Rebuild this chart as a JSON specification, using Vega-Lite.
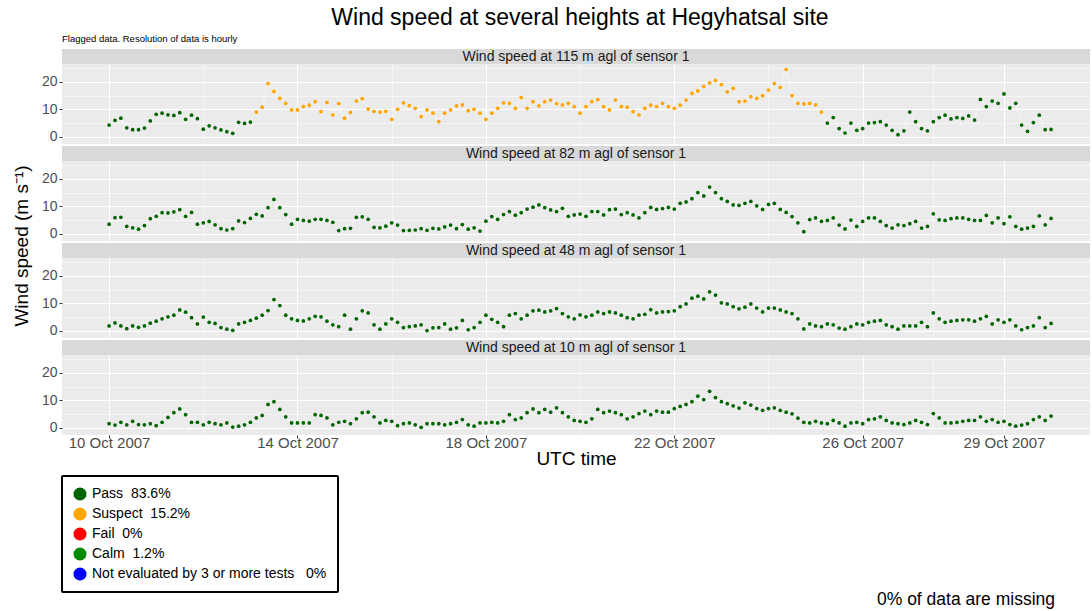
{
"$schema": "https://vega.github.io/schema/vega-lite/v6.json",
"usermeta": {"embedOptions": {"actions": false}},
"background": "white",
"padding": {"left": 12, "top": 6, "right": 0, "bottom": 0},
"title": {"text": "Wind speed at several heights at Hegyhatsal site", "fontSize": 23, "fontWeight": "normal", "color": "#000000", "anchor": "middle", "offset": 4, "dx": 29},
"spacing": 9,
"datasets": {
"ylab": [{"label":"Wind speed (m s⁻¹)"}],
"strips": [
{"s":"115","label":"Wind speed at 115 m agl of sensor 1"},
{"s":"82","label":"Wind speed at 82 m agl of sensor 1"},
{"s":"48","label":"Wind speed at 48 m agl of sensor 1"},
{"s":"10","label":"Wind speed at 10 m agl of sensor 1"}],
"notes": [{"note":"0% of data are missing"}],
"h115": [
{"t":"2007-10-10T00:00","v":4.3,"f":"Pass"},{"t":"2007-10-10T03:00","v":6.0,"f":"Pass"},{"t":"2007-10-10T06:00","v":6.8,"f":"Pass"},{"t":"2007-10-10T09:00","v":3.3,"f":"Pass"},{"t":"2007-10-10T12:00","v":2.6,"f":"Pass"},{"t":"2007-10-10T15:00","v":2.6,"f":"Pass"},{"t":"2007-10-10T18:00","v":3.2,"f":"Pass"},{"t":"2007-10-10T21:00","v":5.8,"f":"Pass"},
{"t":"2007-10-11T00:00","v":8.2,"f":"Pass"},{"t":"2007-10-11T03:00","v":8.6,"f":"Pass"},{"t":"2007-10-11T06:00","v":8.0,"f":"Pass"},{"t":"2007-10-11T09:00","v":7.8,"f":"Pass"},{"t":"2007-10-11T12:00","v":8.8,"f":"Pass"},{"t":"2007-10-11T15:00","v":6.4,"f":"Pass"},{"t":"2007-10-11T18:00","v":7.9,"f":"Pass"},{"t":"2007-10-11T21:00","v":6.6,"f":"Pass"},
{"t":"2007-10-12T00:00","v":2.8,"f":"Pass"},{"t":"2007-10-12T03:00","v":4.0,"f":"Pass"},{"t":"2007-10-12T06:00","v":3.3,"f":"Pass"},{"t":"2007-10-12T09:00","v":2.5,"f":"Pass"},{"t":"2007-10-12T12:00","v":1.9,"f":"Pass"},{"t":"2007-10-12T15:00","v":1.3,"f":"Pass"},{"t":"2007-10-12T18:00","v":5.3,"f":"Pass"},{"t":"2007-10-12T21:00","v":4.9,"f":"Pass"},
{"t":"2007-10-13T00:00","v":5.4,"f":"Pass"},{"t":"2007-10-13T03:00","v":9.0,"f":"Suspect"},{"t":"2007-10-13T06:00","v":10.8,"f":"Suspect"},{"t":"2007-10-13T09:00","v":19.4,"f":"Suspect"},{"t":"2007-10-13T12:00","v":16.5,"f":"Suspect"},{"t":"2007-10-13T15:00","v":14.0,"f":"Suspect"},{"t":"2007-10-13T18:00","v":12.2,"f":"Suspect"},{"t":"2007-10-13T21:00","v":9.8,"f":"Suspect"},
{"t":"2007-10-14T00:00","v":9.8,"f":"Suspect"},{"t":"2007-10-14T03:00","v":11.0,"f":"Suspect"},{"t":"2007-10-14T06:00","v":11.5,"f":"Suspect"},{"t":"2007-10-14T09:00","v":12.8,"f":"Suspect"},{"t":"2007-10-14T12:00","v":9.2,"f":"Suspect"},{"t":"2007-10-14T15:00","v":12.5,"f":"Suspect"},{"t":"2007-10-14T18:00","v":8.0,"f":"Suspect"},{"t":"2007-10-14T21:00","v":12.1,"f":"Suspect"},
{"t":"2007-10-15T00:00","v":6.8,"f":"Suspect"},{"t":"2007-10-15T03:00","v":8.9,"f":"Suspect"},{"t":"2007-10-15T06:00","v":13.0,"f":"Suspect"},{"t":"2007-10-15T09:00","v":13.9,"f":"Suspect"},{"t":"2007-10-15T12:00","v":10.1,"f":"Suspect"},{"t":"2007-10-15T15:00","v":9.3,"f":"Suspect"},{"t":"2007-10-15T18:00","v":9.0,"f":"Suspect"},{"t":"2007-10-15T21:00","v":9.3,"f":"Suspect"},
{"t":"2007-10-16T00:00","v":6.4,"f":"Suspect"},{"t":"2007-10-16T03:00","v":10.0,"f":"Suspect"},{"t":"2007-10-16T06:00","v":12.4,"f":"Suspect"},{"t":"2007-10-16T09:00","v":11.4,"f":"Suspect"},{"t":"2007-10-16T12:00","v":10.4,"f":"Suspect"},{"t":"2007-10-16T15:00","v":7.4,"f":"Suspect"},{"t":"2007-10-16T18:00","v":9.8,"f":"Suspect"},{"t":"2007-10-16T21:00","v":8.6,"f":"Suspect"},
{"t":"2007-10-17T00:00","v":5.5,"f":"Suspect"},{"t":"2007-10-17T03:00","v":8.6,"f":"Suspect"},{"t":"2007-10-17T06:00","v":9.8,"f":"Suspect"},{"t":"2007-10-17T09:00","v":11.3,"f":"Suspect"},{"t":"2007-10-17T12:00","v":11.6,"f":"Suspect"},{"t":"2007-10-17T15:00","v":9.5,"f":"Suspect"},{"t":"2007-10-17T18:00","v":10.0,"f":"Suspect"},{"t":"2007-10-17T21:00","v":8.6,"f":"Suspect"},
{"t":"2007-10-18T00:00","v":6.4,"f":"Suspect"},{"t":"2007-10-18T03:00","v":8.6,"f":"Suspect"},{"t":"2007-10-18T06:00","v":10.4,"f":"Suspect"},{"t":"2007-10-18T09:00","v":12.4,"f":"Suspect"},{"t":"2007-10-18T12:00","v":12.2,"f":"Suspect"},{"t":"2007-10-18T15:00","v":10.4,"f":"Suspect"},{"t":"2007-10-18T18:00","v":14.3,"f":"Suspect"},{"t":"2007-10-18T21:00","v":10.4,"f":"Suspect"},
{"t":"2007-10-19T00:00","v":12.8,"f":"Suspect"},{"t":"2007-10-19T03:00","v":11.3,"f":"Suspect"},{"t":"2007-10-19T06:00","v":12.8,"f":"Suspect"},{"t":"2007-10-19T09:00","v":13.4,"f":"Suspect"},{"t":"2007-10-19T12:00","v":12.1,"f":"Suspect"},{"t":"2007-10-19T15:00","v":11.6,"f":"Suspect"},{"t":"2007-10-19T18:00","v":12.2,"f":"Suspect"},{"t":"2007-10-19T21:00","v":11.0,"f":"Suspect"},
{"t":"2007-10-20T00:00","v":8.6,"f":"Suspect"},{"t":"2007-10-20T03:00","v":11.0,"f":"Suspect"},{"t":"2007-10-20T06:00","v":12.8,"f":"Suspect"},{"t":"2007-10-20T09:00","v":13.5,"f":"Suspect"},{"t":"2007-10-20T12:00","v":11.0,"f":"Suspect"},{"t":"2007-10-20T15:00","v":9.8,"f":"Suspect"},{"t":"2007-10-20T18:00","v":13.4,"f":"Suspect"},{"t":"2007-10-20T21:00","v":11.0,"f":"Suspect"},
{"t":"2007-10-21T00:00","v":10.8,"f":"Suspect"},{"t":"2007-10-21T03:00","v":9.2,"f":"Suspect"},{"t":"2007-10-21T06:00","v":8.0,"f":"Suspect"},{"t":"2007-10-21T09:00","v":10.4,"f":"Suspect"},{"t":"2007-10-21T12:00","v":11.5,"f":"Suspect"},{"t":"2007-10-21T15:00","v":11.0,"f":"Suspect"},{"t":"2007-10-21T18:00","v":12.2,"f":"Suspect"},{"t":"2007-10-21T21:00","v":11.0,"f":"Suspect"},
{"t":"2007-10-22T00:00","v":10.4,"f":"Suspect"},{"t":"2007-10-22T03:00","v":11.5,"f":"Suspect"},{"t":"2007-10-22T06:00","v":13.4,"f":"Suspect"},{"t":"2007-10-22T09:00","v":15.8,"f":"Suspect"},{"t":"2007-10-22T12:00","v":16.7,"f":"Suspect"},{"t":"2007-10-22T15:00","v":18.4,"f":"Suspect"},{"t":"2007-10-22T18:00","v":19.6,"f":"Suspect"},{"t":"2007-10-22T21:00","v":20.5,"f":"Suspect"},
{"t":"2007-10-23T00:00","v":19.0,"f":"Suspect"},{"t":"2007-10-23T03:00","v":16.4,"f":"Suspect"},{"t":"2007-10-23T06:00","v":17.6,"f":"Suspect"},{"t":"2007-10-23T09:00","v":12.8,"f":"Suspect"},{"t":"2007-10-23T12:00","v":13.0,"f":"Suspect"},{"t":"2007-10-23T15:00","v":14.6,"f":"Suspect"},{"t":"2007-10-23T18:00","v":14.0,"f":"Suspect"},{"t":"2007-10-23T21:00","v":15.0,"f":"Suspect"},
{"t":"2007-10-24T00:00","v":17.0,"f":"Suspect"},{"t":"2007-10-24T03:00","v":19.4,"f":"Suspect"},{"t":"2007-10-24T06:00","v":18.0,"f":"Suspect"},{"t":"2007-10-24T09:00","v":24.5,"f":"Suspect"},{"t":"2007-10-24T12:00","v":15.0,"f":"Suspect"},{"t":"2007-10-24T15:00","v":12.2,"f":"Suspect"},{"t":"2007-10-24T18:00","v":12.0,"f":"Suspect"},{"t":"2007-10-24T21:00","v":12.2,"f":"Suspect"},
{"t":"2007-10-25T00:00","v":11.6,"f":"Suspect"},{"t":"2007-10-25T03:00","v":9.0,"f":"Suspect"},{"t":"2007-10-25T06:00","v":5.0,"f":"Pass"},{"t":"2007-10-25T09:00","v":7.0,"f":"Pass"},{"t":"2007-10-25T12:00","v":3.0,"f":"Pass"},{"t":"2007-10-25T15:00","v":1.4,"f":"Pass"},{"t":"2007-10-25T18:00","v":5.0,"f":"Pass"},{"t":"2007-10-25T21:00","v":2.4,"f":"Pass"},
{"t":"2007-10-26T00:00","v":3.0,"f":"Pass"},{"t":"2007-10-26T03:00","v":5.0,"f":"Pass"},{"t":"2007-10-26T06:00","v":5.2,"f":"Pass"},{"t":"2007-10-26T09:00","v":5.5,"f":"Pass"},{"t":"2007-10-26T12:00","v":4.3,"f":"Pass"},{"t":"2007-10-26T15:00","v":2.4,"f":"Pass"},{"t":"2007-10-26T18:00","v":0.8,"f":"Pass"},{"t":"2007-10-26T21:00","v":2.2,"f":"Pass"},
{"t":"2007-10-27T00:00","v":9.0,"f":"Pass"},{"t":"2007-10-27T03:00","v":5.5,"f":"Pass"},{"t":"2007-10-27T06:00","v":3.0,"f":"Pass"},{"t":"2007-10-27T09:00","v":2.2,"f":"Pass"},{"t":"2007-10-27T12:00","v":5.5,"f":"Pass"},{"t":"2007-10-27T15:00","v":7.0,"f":"Pass"},{"t":"2007-10-27T18:00","v":7.9,"f":"Pass"},{"t":"2007-10-27T21:00","v":6.5,"f":"Pass"},
{"t":"2007-10-28T00:00","v":7.0,"f":"Pass"},{"t":"2007-10-28T03:00","v":6.7,"f":"Pass"},{"t":"2007-10-28T06:00","v":7.6,"f":"Pass"},{"t":"2007-10-28T09:00","v":6.1,"f":"Pass"},{"t":"2007-10-28T12:00","v":13.6,"f":"Pass"},{"t":"2007-10-28T15:00","v":11.0,"f":"Pass"},{"t":"2007-10-28T18:00","v":13.0,"f":"Pass"},{"t":"2007-10-28T21:00","v":12.2,"f":"Pass"},
{"t":"2007-10-29T00:00","v":15.6,"f":"Pass"},{"t":"2007-10-29T03:00","v":10.5,"f":"Pass"},{"t":"2007-10-29T06:00","v":12.2,"f":"Pass"},{"t":"2007-10-29T09:00","v":4.3,"f":"Pass"},{"t":"2007-10-29T12:00","v":2.0,"f":"Pass"},{"t":"2007-10-29T15:00","v":5.2,"f":"Pass"},{"t":"2007-10-29T18:00","v":7.9,"f":"Pass"},{"t":"2007-10-29T21:00","v":2.6,"f":"Pass"},
{"t":"2007-10-30T00:00","v":2.7,"f":"Pass"}],
"h82": [
{"t":"2007-10-10T00:00","v":3.5},{"t":"2007-10-10T03:00","v":5.9},{"t":"2007-10-10T06:00","v":6.0},{"t":"2007-10-10T09:00","v":2.7},{"t":"2007-10-10T12:00","v":2.2},{"t":"2007-10-10T15:00","v":1.7},{"t":"2007-10-10T18:00","v":3.0},{"t":"2007-10-10T21:00","v":5.5},
{"t":"2007-10-11T00:00","v":6.4},{"t":"2007-10-11T03:00","v":7.7},{"t":"2007-10-11T06:00","v":7.6},{"t":"2007-10-11T09:00","v":8.0},{"t":"2007-10-11T12:00","v":8.8},{"t":"2007-10-11T15:00","v":6.4},{"t":"2007-10-11T18:00","v":7.8},{"t":"2007-10-11T21:00","v":3.5},
{"t":"2007-10-12T00:00","v":4.0},{"t":"2007-10-12T03:00","v":4.5},{"t":"2007-10-12T06:00","v":3.3},{"t":"2007-10-12T09:00","v":1.9},{"t":"2007-10-12T12:00","v":1.4},{"t":"2007-10-12T15:00","v":1.9},{"t":"2007-10-12T18:00","v":4.7},{"t":"2007-10-12T21:00","v":4.1},
{"t":"2007-10-13T00:00","v":5.6},{"t":"2007-10-13T03:00","v":7.1},{"t":"2007-10-13T06:00","v":6.5},{"t":"2007-10-13T09:00","v":9.5},{"t":"2007-10-13T12:00","v":12.5},{"t":"2007-10-13T15:00","v":9.5},{"t":"2007-10-13T18:00","v":7.0},{"t":"2007-10-13T21:00","v":3.5},
{"t":"2007-10-14T00:00","v":5.3},{"t":"2007-10-14T03:00","v":4.9},{"t":"2007-10-14T06:00","v":4.6},{"t":"2007-10-14T09:00","v":5.3},{"t":"2007-10-14T12:00","v":5.3},{"t":"2007-10-14T15:00","v":4.9},{"t":"2007-10-14T18:00","v":4.2},{"t":"2007-10-14T21:00","v":1.2},
{"t":"2007-10-15T00:00","v":1.9},{"t":"2007-10-15T03:00","v":2.0},{"t":"2007-10-15T06:00","v":6.0},{"t":"2007-10-15T09:00","v":6.2},{"t":"2007-10-15T12:00","v":5.3},{"t":"2007-10-15T15:00","v":2.4},{"t":"2007-10-15T18:00","v":2.2},{"t":"2007-10-15T21:00","v":2.8},
{"t":"2007-10-16T00:00","v":4.0},{"t":"2007-10-16T03:00","v":3.2},{"t":"2007-10-16T06:00","v":1.2},{"t":"2007-10-16T09:00","v":1.3},{"t":"2007-10-16T12:00","v":1.4},{"t":"2007-10-16T15:00","v":1.9},{"t":"2007-10-16T18:00","v":1.3},{"t":"2007-10-16T21:00","v":2.0},
{"t":"2007-10-17T00:00","v":1.8},{"t":"2007-10-17T03:00","v":2.5},{"t":"2007-10-17T06:00","v":3.2},{"t":"2007-10-17T09:00","v":1.9},{"t":"2007-10-17T12:00","v":3.4},{"t":"2007-10-17T15:00","v":1.7},{"t":"2007-10-17T18:00","v":2.2},{"t":"2007-10-17T21:00","v":1.0},
{"t":"2007-10-18T00:00","v":4.6},{"t":"2007-10-18T03:00","v":6.3},{"t":"2007-10-18T06:00","v":5.3},{"t":"2007-10-18T09:00","v":7.0},{"t":"2007-10-18T12:00","v":8.1},{"t":"2007-10-18T15:00","v":6.8},{"t":"2007-10-18T18:00","v":7.7},{"t":"2007-10-18T21:00","v":9.0},
{"t":"2007-10-19T00:00","v":9.7},{"t":"2007-10-19T03:00","v":10.5},{"t":"2007-10-19T06:00","v":9.5},{"t":"2007-10-19T09:00","v":8.7},{"t":"2007-10-19T12:00","v":8.1},{"t":"2007-10-19T15:00","v":9.3},{"t":"2007-10-19T18:00","v":6.4},{"t":"2007-10-19T21:00","v":6.9},
{"t":"2007-10-20T00:00","v":7.2},{"t":"2007-10-20T03:00","v":6.4},{"t":"2007-10-20T06:00","v":8.1},{"t":"2007-10-20T09:00","v":8.1},{"t":"2007-10-20T12:00","v":6.9},{"t":"2007-10-20T15:00","v":8.8},{"t":"2007-10-20T18:00","v":9.0},{"t":"2007-10-20T21:00","v":7.0},
{"t":"2007-10-21T00:00","v":7.7},{"t":"2007-10-21T03:00","v":6.9},{"t":"2007-10-21T06:00","v":5.8},{"t":"2007-10-21T09:00","v":7.7},{"t":"2007-10-21T12:00","v":9.6},{"t":"2007-10-21T15:00","v":8.9},{"t":"2007-10-21T18:00","v":9.2},{"t":"2007-10-21T21:00","v":9.6},
{"t":"2007-10-22T00:00","v":9.0},{"t":"2007-10-22T03:00","v":11.1},{"t":"2007-10-22T06:00","v":11.6},{"t":"2007-10-22T09:00","v":12.8},{"t":"2007-10-22T12:00","v":15.0},{"t":"2007-10-22T15:00","v":13.8},{"t":"2007-10-22T18:00","v":17.0},{"t":"2007-10-22T21:00","v":15.0},
{"t":"2007-10-23T00:00","v":12.8},{"t":"2007-10-23T03:00","v":11.8},{"t":"2007-10-23T06:00","v":10.5},{"t":"2007-10-23T09:00","v":10.4},{"t":"2007-10-23T12:00","v":11.1},{"t":"2007-10-23T15:00","v":11.8},{"t":"2007-10-23T18:00","v":10.2},{"t":"2007-10-23T21:00","v":8.9},
{"t":"2007-10-24T00:00","v":10.7},{"t":"2007-10-24T03:00","v":11.1},{"t":"2007-10-24T06:00","v":8.9},{"t":"2007-10-24T09:00","v":7.8},{"t":"2007-10-24T12:00","v":6.3},{"t":"2007-10-24T15:00","v":4.0},{"t":"2007-10-24T18:00","v":0.8},{"t":"2007-10-24T21:00","v":5.2},
{"t":"2007-10-25T00:00","v":5.8},{"t":"2007-10-25T03:00","v":4.5},{"t":"2007-10-25T06:00","v":4.9},{"t":"2007-10-25T09:00","v":5.8},{"t":"2007-10-25T12:00","v":3.2},{"t":"2007-10-25T15:00","v":1.8},{"t":"2007-10-25T18:00","v":5.0},{"t":"2007-10-25T21:00","v":2.7},
{"t":"2007-10-26T00:00","v":4.5},{"t":"2007-10-26T03:00","v":5.8},{"t":"2007-10-26T06:00","v":5.8},{"t":"2007-10-26T09:00","v":4.5},{"t":"2007-10-26T12:00","v":3.0},{"t":"2007-10-26T15:00","v":2.1},{"t":"2007-10-26T18:00","v":3.3},{"t":"2007-10-26T21:00","v":3.0},
{"t":"2007-10-27T00:00","v":3.7},{"t":"2007-10-27T03:00","v":4.5},{"t":"2007-10-27T06:00","v":2.1},{"t":"2007-10-27T09:00","v":2.7},{"t":"2007-10-27T12:00","v":7.3},{"t":"2007-10-27T15:00","v":5.1},{"t":"2007-10-27T18:00","v":4.9},{"t":"2007-10-27T21:00","v":5.5},
{"t":"2007-10-28T00:00","v":5.8},{"t":"2007-10-28T03:00","v":5.8},{"t":"2007-10-28T06:00","v":5.3},{"t":"2007-10-28T09:00","v":4.9},{"t":"2007-10-28T12:00","v":4.9},{"t":"2007-10-28T15:00","v":6.7},{"t":"2007-10-28T18:00","v":4.0},{"t":"2007-10-28T21:00","v":5.8},
{"t":"2007-10-29T00:00","v":3.7},{"t":"2007-10-29T03:00","v":6.2},{"t":"2007-10-29T06:00","v":2.7},{"t":"2007-10-29T09:00","v":1.7},{"t":"2007-10-29T12:00","v":2.1},{"t":"2007-10-29T15:00","v":2.7},{"t":"2007-10-29T18:00","v":6.5},{"t":"2007-10-29T21:00","v":3.3},
{"t":"2007-10-30T00:00","v":5.6}],
"h48": [
{"t":"2007-10-10T00:00","v":1.8},{"t":"2007-10-10T03:00","v":2.9},{"t":"2007-10-10T06:00","v":1.8},{"t":"2007-10-10T09:00","v":0.8},{"t":"2007-10-10T12:00","v":1.8},{"t":"2007-10-10T15:00","v":1.3},{"t":"2007-10-10T18:00","v":1.8},{"t":"2007-10-10T21:00","v":2.8},
{"t":"2007-10-11T00:00","v":3.5},{"t":"2007-10-11T03:00","v":4.4},{"t":"2007-10-11T06:00","v":5.1},{"t":"2007-10-11T09:00","v":5.7},{"t":"2007-10-11T12:00","v":7.6},{"t":"2007-10-11T15:00","v":6.8},{"t":"2007-10-11T18:00","v":4.8},{"t":"2007-10-11T21:00","v":2.5},
{"t":"2007-10-12T00:00","v":5.0},{"t":"2007-10-12T03:00","v":3.1},{"t":"2007-10-12T06:00","v":2.7},{"t":"2007-10-12T09:00","v":1.2},{"t":"2007-10-12T12:00","v":0.6},{"t":"2007-10-12T15:00","v":0.2},{"t":"2007-10-12T18:00","v":2.5},{"t":"2007-10-12T21:00","v":3.1},
{"t":"2007-10-13T00:00","v":3.8},{"t":"2007-10-13T03:00","v":4.6},{"t":"2007-10-13T06:00","v":5.7},{"t":"2007-10-13T09:00","v":7.4},{"t":"2007-10-13T12:00","v":11.4},{"t":"2007-10-13T15:00","v":9.2},{"t":"2007-10-13T18:00","v":5.7},{"t":"2007-10-13T21:00","v":4.4},
{"t":"2007-10-14T00:00","v":3.8},{"t":"2007-10-14T03:00","v":3.6},{"t":"2007-10-14T06:00","v":4.4},{"t":"2007-10-14T09:00","v":5.3},{"t":"2007-10-14T12:00","v":5.1},{"t":"2007-10-14T15:00","v":3.5},{"t":"2007-10-14T18:00","v":2.2},{"t":"2007-10-14T21:00","v":1.5},
{"t":"2007-10-15T00:00","v":5.7},{"t":"2007-10-15T03:00","v":0.6},{"t":"2007-10-15T06:00","v":4.4},{"t":"2007-10-15T09:00","v":7.3},{"t":"2007-10-15T12:00","v":6.5},{"t":"2007-10-15T15:00","v":2.2},{"t":"2007-10-15T18:00","v":0.6},{"t":"2007-10-15T21:00","v":2.5},
{"t":"2007-10-16T00:00","v":4.4},{"t":"2007-10-16T03:00","v":3.1},{"t":"2007-10-16T06:00","v":1.2},{"t":"2007-10-16T09:00","v":1.5},{"t":"2007-10-16T12:00","v":1.8},{"t":"2007-10-16T15:00","v":2.2},{"t":"2007-10-16T18:00","v":0.1},{"t":"2007-10-16T21:00","v":1.1},
{"t":"2007-10-17T00:00","v":1.2},{"t":"2007-10-17T03:00","v":2.5},{"t":"2007-10-17T06:00","v":0.6},{"t":"2007-10-17T09:00","v":1.1},{"t":"2007-10-17T12:00","v":3.8},{"t":"2007-10-17T15:00","v":0.4},{"t":"2007-10-17T18:00","v":1.2},{"t":"2007-10-17T21:00","v":3.1},
{"t":"2007-10-18T00:00","v":5.7},{"t":"2007-10-18T03:00","v":4.2},{"t":"2007-10-18T06:00","v":3.1},{"t":"2007-10-18T09:00","v":1.5},{"t":"2007-10-18T12:00","v":5.7},{"t":"2007-10-18T15:00","v":6.3},{"t":"2007-10-18T18:00","v":4.4},{"t":"2007-10-18T21:00","v":5.7},
{"t":"2007-10-19T00:00","v":7.3},{"t":"2007-10-19T03:00","v":7.5},{"t":"2007-10-19T06:00","v":6.9},{"t":"2007-10-19T09:00","v":7.3},{"t":"2007-10-19T12:00","v":8.1},{"t":"2007-10-19T15:00","v":6.3},{"t":"2007-10-19T18:00","v":5.1},{"t":"2007-10-19T21:00","v":4.4},
{"t":"2007-10-20T00:00","v":5.8},{"t":"2007-10-20T03:00","v":5.1},{"t":"2007-10-20T06:00","v":5.7},{"t":"2007-10-20T09:00","v":6.9},{"t":"2007-10-20T12:00","v":6.3},{"t":"2007-10-20T15:00","v":6.9},{"t":"2007-10-20T18:00","v":6.5},{"t":"2007-10-20T21:00","v":5.7},
{"t":"2007-10-21T00:00","v":4.8},{"t":"2007-10-21T03:00","v":4.4},{"t":"2007-10-21T06:00","v":5.7},{"t":"2007-10-21T09:00","v":6.0},{"t":"2007-10-21T12:00","v":7.7},{"t":"2007-10-21T15:00","v":6.5},{"t":"2007-10-21T18:00","v":6.9},{"t":"2007-10-21T21:00","v":7.0},
{"t":"2007-10-22T00:00","v":7.3},{"t":"2007-10-22T03:00","v":8.8},{"t":"2007-10-22T06:00","v":9.8},{"t":"2007-10-22T09:00","v":11.9},{"t":"2007-10-22T12:00","v":12.6},{"t":"2007-10-22T15:00","v":11.6},{"t":"2007-10-22T18:00","v":14.2},{"t":"2007-10-22T21:00","v":13.0},
{"t":"2007-10-23T00:00","v":10.2},{"t":"2007-10-23T03:00","v":9.8},{"t":"2007-10-23T06:00","v":8.8},{"t":"2007-10-23T09:00","v":8.0},{"t":"2007-10-23T12:00","v":8.6},{"t":"2007-10-23T15:00","v":9.8},{"t":"2007-10-23T18:00","v":8.3},{"t":"2007-10-23T21:00","v":6.9},
{"t":"2007-10-24T00:00","v":8.3},{"t":"2007-10-24T03:00","v":8.3},{"t":"2007-10-24T06:00","v":7.6},{"t":"2007-10-24T09:00","v":6.9},{"t":"2007-10-24T12:00","v":6.3},{"t":"2007-10-24T15:00","v":4.4},{"t":"2007-10-24T18:00","v":0.7},{"t":"2007-10-24T21:00","v":2.5},
{"t":"2007-10-25T00:00","v":1.8},{"t":"2007-10-25T03:00","v":1.5},{"t":"2007-10-25T06:00","v":2.5},{"t":"2007-10-25T09:00","v":2.2},{"t":"2007-10-25T12:00","v":1.0},{"t":"2007-10-25T15:00","v":0.6},{"t":"2007-10-25T18:00","v":1.5},{"t":"2007-10-25T21:00","v":2.5},
{"t":"2007-10-26T00:00","v":2.2},{"t":"2007-10-26T03:00","v":3.1},{"t":"2007-10-26T06:00","v":3.5},{"t":"2007-10-26T09:00","v":3.8},{"t":"2007-10-26T12:00","v":2.2},{"t":"2007-10-26T15:00","v":1.5},{"t":"2007-10-26T18:00","v":0.6},{"t":"2007-10-26T21:00","v":1.8},
{"t":"2007-10-27T00:00","v":1.8},{"t":"2007-10-27T03:00","v":1.8},{"t":"2007-10-27T06:00","v":3.1},{"t":"2007-10-27T09:00","v":1.5},{"t":"2007-10-27T12:00","v":6.5},{"t":"2007-10-27T15:00","v":4.4},{"t":"2007-10-27T18:00","v":3.1},{"t":"2007-10-27T21:00","v":3.5},
{"t":"2007-10-28T00:00","v":3.8},{"t":"2007-10-28T03:00","v":4.0},{"t":"2007-10-28T06:00","v":4.0},{"t":"2007-10-28T09:00","v":3.5},{"t":"2007-10-28T12:00","v":4.4},{"t":"2007-10-28T15:00","v":5.3},{"t":"2007-10-28T18:00","v":2.5},{"t":"2007-10-28T21:00","v":4.0},
{"t":"2007-10-29T00:00","v":3.1},{"t":"2007-10-29T03:00","v":4.0},{"t":"2007-10-29T06:00","v":1.8},{"t":"2007-10-29T09:00","v":0.4},{"t":"2007-10-29T12:00","v":1.2},{"t":"2007-10-29T15:00","v":1.8},{"t":"2007-10-29T18:00","v":4.8},{"t":"2007-10-29T21:00","v":1.2},
{"t":"2007-10-30T00:00","v":2.7}],
"h10": [
{"t":"2007-10-10T00:00","v":1.5},{"t":"2007-10-10T03:00","v":1.0},{"t":"2007-10-10T06:00","v":2.0},{"t":"2007-10-10T09:00","v":1.1},{"t":"2007-10-10T12:00","v":2.4},{"t":"2007-10-10T15:00","v":1.2},{"t":"2007-10-10T18:00","v":1.1},{"t":"2007-10-10T21:00","v":1.5},
{"t":"2007-10-11T00:00","v":0.8},{"t":"2007-10-11T03:00","v":2.0},{"t":"2007-10-11T06:00","v":3.8},{"t":"2007-10-11T09:00","v":5.5},{"t":"2007-10-11T12:00","v":6.9},{"t":"2007-10-11T15:00","v":4.8},{"t":"2007-10-11T18:00","v":2.0},{"t":"2007-10-11T21:00","v":2.0},
{"t":"2007-10-12T00:00","v":1.1},{"t":"2007-10-12T03:00","v":2.0},{"t":"2007-10-12T06:00","v":1.5},{"t":"2007-10-12T09:00","v":1.1},{"t":"2007-10-12T12:00","v":1.8},{"t":"2007-10-12T15:00","v":0.3},{"t":"2007-10-12T18:00","v":0.6},{"t":"2007-10-12T21:00","v":1.1},
{"t":"2007-10-13T00:00","v":2.0},{"t":"2007-10-13T03:00","v":3.6},{"t":"2007-10-13T06:00","v":4.5},{"t":"2007-10-13T09:00","v":8.5},{"t":"2007-10-13T12:00","v":9.5},{"t":"2007-10-13T15:00","v":6.7},{"t":"2007-10-13T18:00","v":4.0},{"t":"2007-10-13T21:00","v":1.8},
{"t":"2007-10-14T00:00","v":1.8},{"t":"2007-10-14T03:00","v":1.8},{"t":"2007-10-14T06:00","v":1.8},{"t":"2007-10-14T09:00","v":4.8},{"t":"2007-10-14T12:00","v":4.5},{"t":"2007-10-14T15:00","v":3.6},{"t":"2007-10-14T18:00","v":1.1},{"t":"2007-10-14T21:00","v":2.0},
{"t":"2007-10-15T00:00","v":2.4},{"t":"2007-10-15T03:00","v":1.5},{"t":"2007-10-15T06:00","v":3.3},{"t":"2007-10-15T09:00","v":5.5},{"t":"2007-10-15T12:00","v":5.7},{"t":"2007-10-15T15:00","v":4.0},{"t":"2007-10-15T18:00","v":1.8},{"t":"2007-10-15T21:00","v":2.7},
{"t":"2007-10-16T00:00","v":2.4},{"t":"2007-10-16T03:00","v":0.8},{"t":"2007-10-16T06:00","v":1.5},{"t":"2007-10-16T09:00","v":1.8},{"t":"2007-10-16T12:00","v":1.1},{"t":"2007-10-16T15:00","v":0.2},{"t":"2007-10-16T18:00","v":1.5},{"t":"2007-10-16T21:00","v":1.5},
{"t":"2007-10-17T00:00","v":1.5},{"t":"2007-10-17T03:00","v":1.1},{"t":"2007-10-17T06:00","v":1.5},{"t":"2007-10-17T09:00","v":2.0},{"t":"2007-10-17T12:00","v":3.0},{"t":"2007-10-17T15:00","v":1.1},{"t":"2007-10-17T18:00","v":0.6},{"t":"2007-10-17T21:00","v":1.8},
{"t":"2007-10-18T00:00","v":1.8},{"t":"2007-10-18T03:00","v":2.0},{"t":"2007-10-18T06:00","v":1.8},{"t":"2007-10-18T09:00","v":2.4},{"t":"2007-10-18T12:00","v":4.8},{"t":"2007-10-18T15:00","v":3.0},{"t":"2007-10-18T18:00","v":3.6},{"t":"2007-10-18T21:00","v":5.5},
{"t":"2007-10-19T00:00","v":6.9},{"t":"2007-10-19T03:00","v":5.5},{"t":"2007-10-19T06:00","v":6.7},{"t":"2007-10-19T09:00","v":5.7},{"t":"2007-10-19T12:00","v":7.3},{"t":"2007-10-19T15:00","v":5.5},{"t":"2007-10-19T18:00","v":4.0},{"t":"2007-10-19T21:00","v":2.7},
{"t":"2007-10-20T00:00","v":2.4},{"t":"2007-10-20T03:00","v":2.0},{"t":"2007-10-20T06:00","v":3.3},{"t":"2007-10-20T09:00","v":6.7},{"t":"2007-10-20T12:00","v":5.5},{"t":"2007-10-20T15:00","v":6.1},{"t":"2007-10-20T18:00","v":5.5},{"t":"2007-10-20T21:00","v":4.8},
{"t":"2007-10-21T00:00","v":3.3},{"t":"2007-10-21T03:00","v":4.0},{"t":"2007-10-21T06:00","v":5.2},{"t":"2007-10-21T09:00","v":6.1},{"t":"2007-10-21T12:00","v":4.8},{"t":"2007-10-21T15:00","v":6.1},{"t":"2007-10-21T18:00","v":5.7},{"t":"2007-10-21T21:00","v":5.7},
{"t":"2007-10-22T00:00","v":7.0},{"t":"2007-10-22T03:00","v":7.8},{"t":"2007-10-22T06:00","v":8.5},{"t":"2007-10-22T09:00","v":9.5},{"t":"2007-10-22T12:00","v":11.5},{"t":"2007-10-22T15:00","v":10.3},{"t":"2007-10-22T18:00","v":13.3},{"t":"2007-10-22T21:00","v":11.0},
{"t":"2007-10-23T00:00","v":9.5},{"t":"2007-10-23T03:00","v":8.8},{"t":"2007-10-23T06:00","v":8.0},{"t":"2007-10-23T09:00","v":7.2},{"t":"2007-10-23T12:00","v":9.1},{"t":"2007-10-23T15:00","v":8.3},{"t":"2007-10-23T18:00","v":7.0},{"t":"2007-10-23T21:00","v":6.4},
{"t":"2007-10-24T00:00","v":7.0},{"t":"2007-10-24T03:00","v":7.3},{"t":"2007-10-24T06:00","v":6.4},{"t":"2007-10-24T09:00","v":5.7},{"t":"2007-10-24T12:00","v":5.1},{"t":"2007-10-24T15:00","v":3.5},{"t":"2007-10-24T18:00","v":2.0},{"t":"2007-10-24T21:00","v":1.8},
{"t":"2007-10-25T00:00","v":2.4},{"t":"2007-10-25T03:00","v":1.8},{"t":"2007-10-25T06:00","v":1.5},{"t":"2007-10-25T09:00","v":2.7},{"t":"2007-10-25T12:00","v":1.8},{"t":"2007-10-25T15:00","v":0.6},{"t":"2007-10-25T18:00","v":1.8},{"t":"2007-10-25T21:00","v":2.0},
{"t":"2007-10-26T00:00","v":1.5},{"t":"2007-10-26T03:00","v":3.0},{"t":"2007-10-26T06:00","v":3.3},{"t":"2007-10-26T09:00","v":4.0},{"t":"2007-10-26T12:00","v":2.7},{"t":"2007-10-26T15:00","v":1.8},{"t":"2007-10-26T18:00","v":1.5},{"t":"2007-10-26T21:00","v":1.2},
{"t":"2007-10-27T00:00","v":1.8},{"t":"2007-10-27T03:00","v":2.7},{"t":"2007-10-27T06:00","v":2.0},{"t":"2007-10-27T09:00","v":1.2},{"t":"2007-10-27T12:00","v":5.2},{"t":"2007-10-27T15:00","v":3.6},{"t":"2007-10-27T18:00","v":1.8},{"t":"2007-10-27T21:00","v":1.8},
{"t":"2007-10-28T00:00","v":2.0},{"t":"2007-10-28T03:00","v":2.4},{"t":"2007-10-28T06:00","v":2.7},{"t":"2007-10-28T09:00","v":2.7},{"t":"2007-10-28T12:00","v":4.0},{"t":"2007-10-28T15:00","v":2.4},{"t":"2007-10-28T18:00","v":3.0},{"t":"2007-10-28T21:00","v":2.0},
{"t":"2007-10-29T00:00","v":2.4},{"t":"2007-10-29T03:00","v":1.2},{"t":"2007-10-29T06:00","v":0.6},{"t":"2007-10-29T09:00","v":1.0},{"t":"2007-10-29T12:00","v":1.5},{"t":"2007-10-29T15:00","v":3.0},{"t":"2007-10-29T18:00","v":4.0},{"t":"2007-10-29T21:00","v":2.7},
{"t":"2007-10-30T00:00","v":4.3}]
},
"hconcat": [
{"width": 20, "height": 394, "data": {"name": "ylab"}, "view": {"stroke": null, "fill": null},
 "mark": {"type": "text", "angle": 270, "fontSize": 19, "color": "#000000"},
 "encoding": {"text": {"field": "label"}}},
{"spacing": 2,
 "vconcat": [
{"title": {"text": "Flagged data. Resolution of data is hourly", "fontSize": 9.5, "fontWeight": "normal", "anchor": "start", "frame": "group", "color": "#000000", "offset": 6},
 "spacing": 0,
 "vconcat": [
 {"width": 1028, "height": 15, "view": {"fill": "#D9D9D9", "stroke": null}, "data": {"name": "strips"}, "transform": [{"filter": "datum.s == '115'"}], "mark": {"type": "text", "fontSize": 14, "color": "#1A1A1A"}, "encoding": {"text": {"field": "label"}}},
 {"width": 1028, "height": 80, "view": {"fill": "#EBEBEB", "stroke": null}, "data": {"name": "h115"},
  "layer": [
   {"mark": {"type": "line", "color": "#FFFFFF", "strokeWidth": 0.5},
    "encoding": {
     "x": {"field": "t", "type": "temporal", "scale": {"domain": [{"year":2007,"month":10,"date":9},{"year":2007,"month":10,"date":30,"hours":19,"minutes":50}], "nice": false},
       "axis": {"orient": "top", "values": [{"year":2007,"month":10,"date":12},{"year":2007,"month":10,"date":16},{"year":2007,"month":10,"date":20},{"year":2007,"month":10,"date":24},{"year":2007,"month":10,"date":27,"hours":12}], "grid": true, "gridWidth": 0.5, "labels": false, "ticks": false, "domain": false, "title": null, "minExtent": 0, "maxExtent": 0}},
     "y": {"field": "v", "type": "quantitative", "scale": {"domain": [-2.6, 26.5], "nice": false, "zero": false},
       "axis": {"orient": "right", "values": [5, 15, 25], "grid": true, "gridWidth": 0.5, "labels": false, "ticks": false, "domain": false, "title": null, "minExtent": 0, "maxExtent": 0}}}},
   {"mark": {"type": "point", "filled": true, "size": 14, "opacity": 1},
    "encoding": {
     "x": {"field": "t", "type": "temporal", "axis": {"orient": "bottom", "values": [{"year":2007,"month":10,"date":10},{"year":2007,"month":10,"date":14},{"year":2007,"month":10,"date":18},{"year":2007,"month":10,"date":22},{"year":2007,"month":10,"date":26},{"year":2007,"month":10,"date":29}], "grid": true, "labels": false, "ticks": false, "domain": false, "title": null, "minExtent": 0, "maxExtent": 0}},
     "y": {"field": "v", "type": "quantitative", "axis": {"orient": "left", "values": [0, 10, 20], "grid": true, "title": null}},
     "color": {"field": "f", "type": "nominal",
       "scale": {"domain": ["Pass", "Suspect", "Fail", "Calm", "Not evaluated by 3 or more tests"], "range": ["#006400", "#FFA500", "#FF0000", "#008B00", "#0000FF"]},
       "legend": {"title": null, "orient": "none", "legendX": 50, "legendY": 427, "direction": "vertical", "symbolType": "circle", "symbolSize": 170, "symbolStrokeWidth": 0, "symbolOpacity": 1, "labelFontSize": 14, "labelColor": "#000000", "labelOffset": 5, "labelLimit": 400, "rowPadding": 6, "padding": 11, "strokeColor": "#000000", "fillColor": "#FFFFFF", "cornerRadius": 1,
         "labelExpr": "datum.label == 'Pass' ? 'Pass\u00a0 83.6%' : datum.label == 'Suspect' ? 'Suspect\u00a0 15.2%' : datum.label == 'Fail' ? 'Fail\u00a0 0%' : datum.label == 'Calm' ? 'Calm\u00a0 1.2%' : 'Not evaluated by 3 or more tests\u00a0\u00a0 0%'",
         "encode": {"legend": {"update": {"strokeWidth": {"value": 2}}}}}}}}
  ],
  "resolve": {"axis": {"x": "independent", "y": "independent"}}}
 ]},
{"spacing": 0,
 "vconcat": [
 {"width": 1028, "height": 15, "view": {"fill": "#D9D9D9", "stroke": null}, "data": {"name": "strips"}, "transform": [{"filter": "datum.s == '82'"}], "mark": {"type": "text", "fontSize": 14, "color": "#1A1A1A"}, "encoding": {"text": {"field": "label"}}},
 {"width": 1028, "height": 80, "view": {"fill": "#EBEBEB", "stroke": null}, "data": {"name": "h82"},
  "layer": [
   {"mark": {"type": "line", "color": "#FFFFFF", "strokeWidth": 0.5},
    "encoding": {
     "x": {"field": "t", "type": "temporal", "scale": {"domain": [{"year":2007,"month":10,"date":9},{"year":2007,"month":10,"date":30,"hours":19,"minutes":50}], "nice": false},
       "axis": {"orient": "top", "values": [{"year":2007,"month":10,"date":12},{"year":2007,"month":10,"date":16},{"year":2007,"month":10,"date":20},{"year":2007,"month":10,"date":24},{"year":2007,"month":10,"date":27,"hours":12}], "grid": true, "gridWidth": 0.5, "labels": false, "ticks": false, "domain": false, "title": null, "minExtent": 0, "maxExtent": 0}},
     "y": {"field": "v", "type": "quantitative", "scale": {"domain": [-2.6, 26.5], "nice": false, "zero": false},
       "axis": {"orient": "right", "values": [5, 15, 25], "grid": true, "gridWidth": 0.5, "labels": false, "ticks": false, "domain": false, "title": null, "minExtent": 0, "maxExtent": 0}}}},
   {"mark": {"type": "point", "filled": true, "size": 14, "opacity": 1, "color": "#006400"},
    "encoding": {
     "x": {"field": "t", "type": "temporal", "axis": {"orient": "bottom", "values": [{"year":2007,"month":10,"date":10},{"year":2007,"month":10,"date":14},{"year":2007,"month":10,"date":18},{"year":2007,"month":10,"date":22},{"year":2007,"month":10,"date":26},{"year":2007,"month":10,"date":29}], "grid": true, "labels": false, "ticks": false, "domain": false, "title": null, "minExtent": 0, "maxExtent": 0}},
     "y": {"field": "v", "type": "quantitative", "axis": {"orient": "left", "values": [0, 10, 20], "grid": true, "title": null}}}}
  ],
  "resolve": {"axis": {"x": "independent", "y": "independent"}}}
 ]},
{"spacing": 0,
 "vconcat": [
 {"width": 1028, "height": 15, "view": {"fill": "#D9D9D9", "stroke": null}, "data": {"name": "strips"}, "transform": [{"filter": "datum.s == '48'"}], "mark": {"type": "text", "fontSize": 14, "color": "#1A1A1A"}, "encoding": {"text": {"field": "label"}}},
 {"width": 1028, "height": 80, "view": {"fill": "#EBEBEB", "stroke": null}, "data": {"name": "h48"},
  "layer": [
   {"mark": {"type": "line", "color": "#FFFFFF", "strokeWidth": 0.5},
    "encoding": {
     "x": {"field": "t", "type": "temporal", "scale": {"domain": [{"year":2007,"month":10,"date":9},{"year":2007,"month":10,"date":30,"hours":19,"minutes":50}], "nice": false},
       "axis": {"orient": "top", "values": [{"year":2007,"month":10,"date":12},{"year":2007,"month":10,"date":16},{"year":2007,"month":10,"date":20},{"year":2007,"month":10,"date":24},{"year":2007,"month":10,"date":27,"hours":12}], "grid": true, "gridWidth": 0.5, "labels": false, "ticks": false, "domain": false, "title": null, "minExtent": 0, "maxExtent": 0}},
     "y": {"field": "v", "type": "quantitative", "scale": {"domain": [-2.6, 26.5], "nice": false, "zero": false},
       "axis": {"orient": "right", "values": [5, 15, 25], "grid": true, "gridWidth": 0.5, "labels": false, "ticks": false, "domain": false, "title": null, "minExtent": 0, "maxExtent": 0}}}},
   {"mark": {"type": "point", "filled": true, "size": 14, "opacity": 1, "color": "#006400"},
    "encoding": {
     "x": {"field": "t", "type": "temporal", "axis": {"orient": "bottom", "values": [{"year":2007,"month":10,"date":10},{"year":2007,"month":10,"date":14},{"year":2007,"month":10,"date":18},{"year":2007,"month":10,"date":22},{"year":2007,"month":10,"date":26},{"year":2007,"month":10,"date":29}], "grid": true, "labels": false, "ticks": false, "domain": false, "title": null, "minExtent": 0, "maxExtent": 0}},
     "y": {"field": "v", "type": "quantitative", "axis": {"orient": "left", "values": [0, 10, 20], "grid": true, "title": null}}}}
  ],
  "resolve": {"axis": {"x": "independent", "y": "independent"}}}
 ]},
{"spacing": 0,
 "vconcat": [
 {"width": 1028, "height": 15, "view": {"fill": "#D9D9D9", "stroke": null}, "data": {"name": "strips"}, "transform": [{"filter": "datum.s == '10'"}], "mark": {"type": "text", "fontSize": 14, "color": "#1A1A1A"}, "encoding": {"text": {"field": "label"}}},
 {"width": 1028, "height": 80, "view": {"fill": "#EBEBEB", "stroke": null}, "data": {"name": "h10"},
  "layer": [
   {"mark": {"type": "line", "color": "#FFFFFF", "strokeWidth": 0.5},
    "encoding": {
     "x": {"field": "t", "type": "temporal", "scale": {"domain": [{"year":2007,"month":10,"date":9},{"year":2007,"month":10,"date":30,"hours":19,"minutes":50}], "nice": false},
       "axis": {"orient": "top", "values": [{"year":2007,"month":10,"date":12},{"year":2007,"month":10,"date":16},{"year":2007,"month":10,"date":20},{"year":2007,"month":10,"date":24},{"year":2007,"month":10,"date":27,"hours":12}], "grid": true, "gridWidth": 0.5, "labels": false, "ticks": false, "domain": false, "title": null, "minExtent": 0, "maxExtent": 0}},
     "y": {"field": "v", "type": "quantitative", "scale": {"domain": [-2.6, 26.5], "nice": false, "zero": false},
       "axis": {"orient": "right", "values": [5, 15, 25], "grid": true, "gridWidth": 0.5, "labels": false, "ticks": false, "domain": false, "title": null, "minExtent": 0, "maxExtent": 0}}}},
   {"mark": {"type": "point", "filled": true, "size": 14, "opacity": 1, "color": "#006400"},
    "encoding": {
     "x": {"field": "t", "type": "temporal", "axis": {"orient": "bottom", "values": [{"year":2007,"month":10,"date":10},{"year":2007,"month":10,"date":14},{"year":2007,"month":10,"date":18},{"year":2007,"month":10,"date":22},{"year":2007,"month":10,"date":26},{"year":2007,"month":10,"date":29}], "format": "%d %b %Y", "grid": true, "labelFontSize": 15, "labelPadding": -3, "labelFlush": false, "labelOverlap": false, "title": "UTC time", "titleFontSize": 19, "titlePadding": -1}},
     "y": {"field": "v", "type": "quantitative", "axis": {"orient": "left", "values": [0, 10, 20], "grid": true, "title": null}}}}
  ],
  "resolve": {"axis": {"x": "independent", "y": "independent"}}}
 ]},
{"width": 993, "height": 135, "data": {"name": "notes"}, "view": {"stroke": null, "fill": null},
 "mark": {"type": "text", "fontSize": 17.5, "color": "#000000", "align": "right", "baseline": "alphabetic"},
 "encoding": {"text": {"field": "note"}, "x": {"value": "width"}, "y": {"value": "height"}}}
]}
],
"config": {
 "font": "Liberation Sans",
 "view": {"stroke": null},
 "axis": {"domain": false, "gridColor": "#FFFFFF", "gridWidth": 1, "gridOpacity": 1, "tickColor": "#333333", "tickSize": 3, "tickWidth": 1, "labelColor": "#4D4D4D", "labelFontSize": 14, "labelFont": "Liberation Sans", "titleFont": "Liberation Sans", "titleFontSize": 18, "titleFontWeight": "normal", "titleColor": "#000000", "labelPadding": 2},
 "legend": {"labelFont": "Liberation Sans"},
 "title": {"font": "Liberation Sans"}
}
}
